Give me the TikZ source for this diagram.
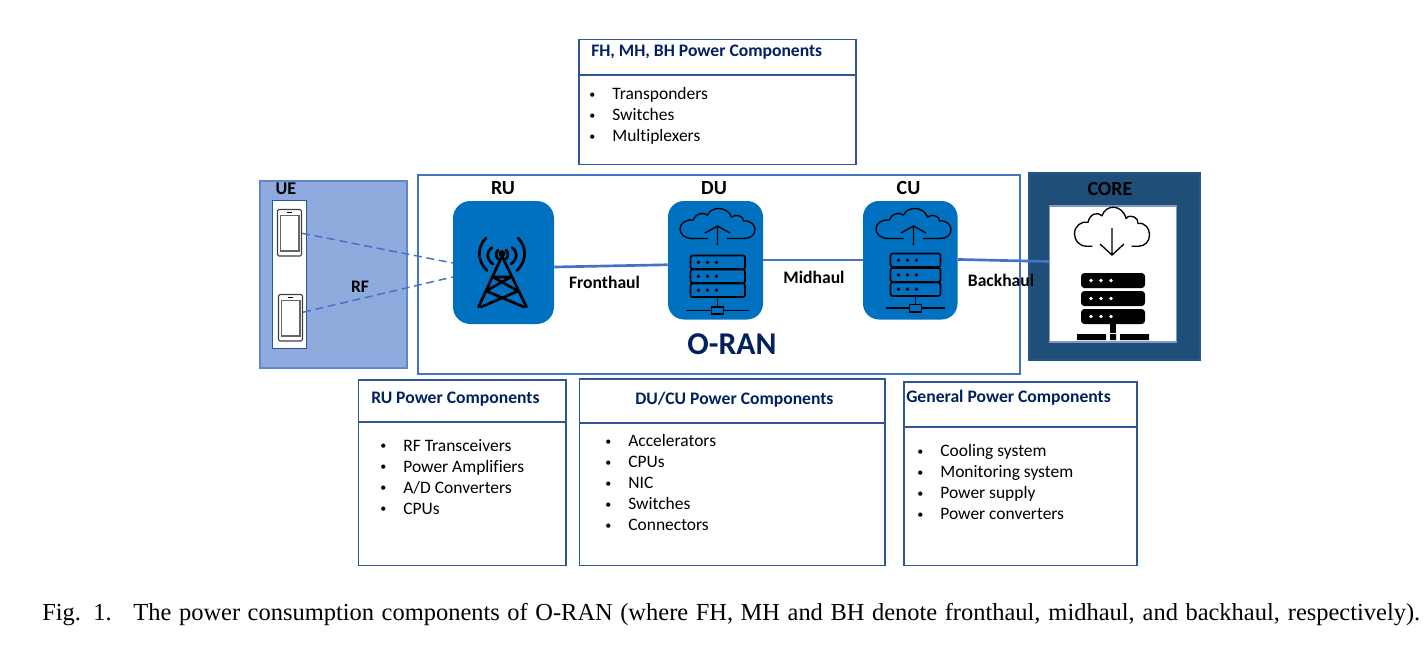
\documentclass[tikz,border=0pt]{standalone}
\usepackage{fontspec}
\setmainfont[Ligatures=NoCommon]{Carlito}
\newfontfamily\capfont{Liberation Serif}
\usetikzlibrary{fit,calc}
\definecolor{ranblue}{HTML}{4472C4}
\definecolor{uefill}{HTML}{8FAADC}
\definecolor{icon}{HTML}{0070C0}
\definecolor{corefill}{HTML}{1F4E79}
\definecolor{boxline}{HTML}{2F5597}
\definecolor{headtxt}{HTML}{002060}
\tikzset{
  x=0.75pt,y=-0.75pt,
  area/.style={inner sep=0pt,draw=#1},
  uebox/.style={area=ranblue!85!white,fill=uefill,line width=1.3pt},
  ranbox/.style={area=ranblue,line width=1.5pt},
  corebox/.style={area=corefill!80!ranblue,fill=corefill,line width=0.8pt},
  whitebox/.style={area=boxline!60!white,fill=white,line width=0.8pt},
  iconbox/.style={inner sep=0pt,fill=icon,rounded corners=12pt},
  listbox/.style={area=boxline,line width=0.9pt},
  lbl/.style={font=\fontsize{13.2}{15}\selectfont\bfseries,text=black,inner sep=0pt},
  big/.style={font=\fontsize{15}{18}\selectfont\bfseries,text=black,inner sep=0pt},
  head/.style={font=\fontsize{13.2}{15}\selectfont\bfseries,text=headtxt,inner sep=0pt,anchor=base west},
  items/.style={font=\fontsize{13.1}{15.75}\selectfont,align=left,inner sep=0pt,anchor=north west},
  link/.style={draw=ranblue,line width=2pt},
  rf/.style={draw=ranblue,line width=1.1pt,dash pattern=on 6pt off 3.5pt},
}
\newcommand{\itm}[1]{\makebox[17.3pt][l]{\raisebox{1pt}{\fontsize{9}{9}\selectfont •}}#1}
% phone: x1 y1 x2 y2
\newcommand{\phoneicon}[5]{%
  \node[fit={(#2,#3)(#4,#5)},inner sep=0pt,draw=black!75,fill=white,line width=0.8pt,rounded corners=1pt] (#1) {};
  \draw[black!60,line width=1.2pt] (#2+3,#3+6) rectangle (#4-2.5,#5-5);
  \draw[black,line width=0.9pt] (#2+9.5,#3+3) -- (#4-9.5,#3+3);
}
% cloud: centre x y, y scale, half gap at the base
\newcommand{\cloudshape}[4]{%
  \begin{scope}[shift={(#1,#2)},yscale=#3]
    \draw[line width=1pt,line cap=round]
      (-#4,12.5) -- (-25,12.5) .. controls (-33,12.5) and (-37.5,8) .. (-37.5,3)
      .. controls (-37.5,-3) and (-31,-7) .. (-24,-6)
      .. controls (-22,-13) and (-14,-14) .. (-10,-11)
      .. controls (-6,-20) and (10,-20) .. (14,-9)
      .. controls (19,-13) and (27,-9) .. (26,-5)
      .. controls (33,-6) and (37.5,-1) .. (37.5,3.5)
      .. controls (37.5,9) and (33,12.5) .. (26,12.5) -- (#4,12.5);
  \end{scope}}
\newcommand{\serverrow}[4]{%
  \draw[line width=1.2pt,rounded corners=1.6pt] (#1,#2) rectangle (#3,#4);
  \fill ($(#1,#2)!0.5!(#1,#4)+(8,0)$) circle (1.4pt) ($(#1,#2)!0.5!(#1,#4)+(17,0)$) circle (1.4pt) ($(#1,#2)!0.5!(#1,#4)+(26,0)$) circle (1.4pt);
}
\begin{document}
\begin{tikzpicture}
\useasboundingbox (0,0) rectangle (1428,644);
% UE
\node[uebox,fit={(260,181)(407,368)}] (uearea) {};
\node[inner sep=0pt,draw=boxline,fill=white,line width=0.6pt,fit={(272,200.5)(306,348)}] (uestrip) {};
\phoneicon{phoneA}{277.5}{209.5}{301.5}{256}
\phoneicon{phoneB}{278.5}{294.5}{302.5}{341}
\node[big,font=\fontsize{13.5}{16}\selectfont\bfseries] (uelabel) at (286,189) {UE};
% RAN
\node[ranbox,fit={(417.5,174.5)(1019.5,374)}] (ran) {};
\node[iconbox,rounded corners=13pt,fit={(453,201)(554,324)}] (ru) {};
\node[iconbox,fit={(668,201)(763,319.5)}] (du) {};
\node[iconbox,fit={(863,201)(957.5,319.5)}] (cu) {};
% CORE
\node[corebox,fit={(1029,173)(1200,360)}] (core) {};
\node[whitebox,fit={(1049.5,206)(1176.5,342)}] (corein) {};
% connectors
\coordinate (ruA) at ($(ru.west)+(0,0.5)$);
\coordinate (ruB) at ($(ru.west)+(0,14.5)$);
\coordinate (phA) at ($(phoneA.east)+(0,0.5)$);
\coordinate (phB) at ($(phoneB.east)+(0,-5.5)$);
\draw[rf] (phA) -- (ruA);
\draw[rf] (phB) -- (ruB);
\draw[link] ($(ru.east)+(0,4.5)$) -- ($(du.west)+(0,4.5)$);
\draw[link] ($(du.east)+(0,-0.3)$) -- ($(cu.west)+(0,-0.3)$);
\draw[link] ($(cu.east)+(0,-0.8)$) -- ($(corein.west)+(0,-12.5)$);
% tower
\begin{scope}[black,line width=2pt,line cap=round,line join=round]
  \fill (502,253.5) circle (3.4);
  \draw (502,256) -- (478.5,307) (502,256) -- (526.5,307);
  \draw (493,277) -- (511,277) (493,277) -- (518,291) -- (481,307) (511,277) -- (486,291) -- (524,307);
  \draw (498,250) .. controls (495.5,252.5) and (495.5,256.5) .. (498,259);
  \draw (506,250) .. controls (508.5,252.5) and (508.5,256.5) .. (506,259);
  \draw (492,247.5) .. controls (486,252) and (486,259) .. (493,264);
  \draw (512,247.5) .. controls (518,252) and (518,259) .. (511,264);
  \draw (486,238) .. controls (477,247) and (477,261) .. (487,270.5);
  \draw (518,238) .. controls (527,247) and (527,261) .. (517,270.5);
\end{scope}
% DU icon
\cloudshape{717.5}{226}{1}{10}
\draw[line width=1pt] (717.5,245) -- (717.5,226) (705,233) -- (717.5,226) -- (730,233);
\serverrow{690.5}{255.5}{745}{269}
\serverrow{690.5}{269.5}{745}{283}
\serverrow{690.5}{283.5}{745}{297}
\draw[line width=1.1pt] (717.5,297) -- (717.5,307) (686,310.5) -- (749,310.5);
\draw[line width=1.1pt,fill=icon] (711.5,307) rectangle (723.5,314);
% CU icon
\cloudshape{913.5}{226}{1}{10}
\draw[line width=1pt] (913.5,245) -- (913.5,226) (901,233) -- (913.5,226) -- (926,233);
\serverrow{890.5}{253.5}{940.5}{267}
\serverrow{890.5}{268}{940.5}{282}
\serverrow{890.5}{282.5}{940.5}{296}
\draw[line width=1.1pt] (915.5,296) -- (915.5,305) (886,308) -- (945,308);
\draw[line width=1.1pt,fill=icon] (909.5,304.5) rectangle (921.5,312);
% CORE icon
\cloudshape{1112}{230}{1.3}{20}
\draw[line width=1pt] (1112,228) -- (1112,255) (1100,244) -- (1112,255) -- (1124,244);
\foreach \yy in {273,291,309}{
  \fill[black,rounded corners=2.5pt] (1081,\yy) rectangle (1145,\yy+15);
  \fill[white] (1091,\yy+7.5) circle (1.4pt) (1101,\yy+7.5) circle (1.4pt) (1111,\yy+7.5) circle (1.4pt);
}
\fill[black] (1110,323) rectangle (1116,333);
\fill[black] (1077,334) rectangle (1106,340) (1110,334) rectangle (1116,340) (1120,334) rectangle (1149,340);
% labels
\node[big] (rulabel) at (503,188) {RU};
\node[big] (dulabel) at (714,188) {DU};
\node[big] (culabel) at (908.5,188) {CU};
\node[big] (corelabel) at (1110,189) {CORE};
\node[lbl] (rflabel) at (360,287) {RF};
\node[lbl] (fhlabel) at (604.5,282) {Fronthaul};
\node[lbl] (mhlabel) at (814,277) {Midhaul};
\node[lbl] (bhlabel) at (1001,280) {Backhaul};
\node[inner sep=0pt,text=headtxt,font=\fontsize{23.8}{26}\selectfont\bfseries] (oran) at (732,344) {O-RAN};
% FH box
\node[listbox,fit={(579,39.5)(856,164.5)}] (fhbox) {};
\draw[listbox] (fhbox.west |- 0,75) -- (fhbox.east |- 0,75);
\node[head] (fhhead) at (591,56) {FH, MH, BH Power Components};
\node[items] (fhitems) at (589,87) {\itm{Transponders}\\\itm{Switches}\\\itm{Multiplexers}};
% RU box
\node[listbox,fit={(358.5,380)(566,565.5)}] (rubox) {};
\draw[listbox] (rubox.west |- 0,422) -- (rubox.east |- 0,422);
\node[head] (ruhead) at (371,403) {RU Power Components};
\node[items] (ruitems) at (380,439) {\itm{RF Transceivers}\\\itm{Power Amplifiers}\\\itm{A/D Converters}\\\itm{CPUs}};
% DU/CU box
\node[listbox,fit={(579.5,379)(885,565.5)}] (ducubox) {};
\draw[listbox] (ducubox.west |- 0,423) -- (ducubox.east |- 0,423);
\node[head] (ducuhead) at (635,404) {DU/CU Power Components};
\node[items] (ducuitems) at (605,434) {\itm{Accelerators}\\\itm{CPUs}\\\itm{NIC}\\\itm{Switches}\\\itm{Connectors}};
% General box
\node[listbox,fit={(904,382)(1137,565.5)}] (genbox) {};
\draw[listbox] (genbox.west |- 0,427) -- (genbox.east |- 0,427);
\node[head] (genhead) at (906,402) {General Power Components};
\node[items] (genitems) at (917,444) {\itm{Cooling system}\\\itm{Monitoring system}\\\itm{Power supply}\\\itm{Power converters}};
% caption
\node[inner sep=0pt,anchor=base west,font=\capfont\fontsize{18.35}{20}\selectfont] (caption) at (42,620)
  {\makebox[1033.5pt][s]{Fig. 1.\hspace{7pt} The power consumption components of O-RAN (where FH, MH and BH denote fronthaul, midhaul, and backhaul, respectively).}};
\end{tikzpicture}
\end{document}
